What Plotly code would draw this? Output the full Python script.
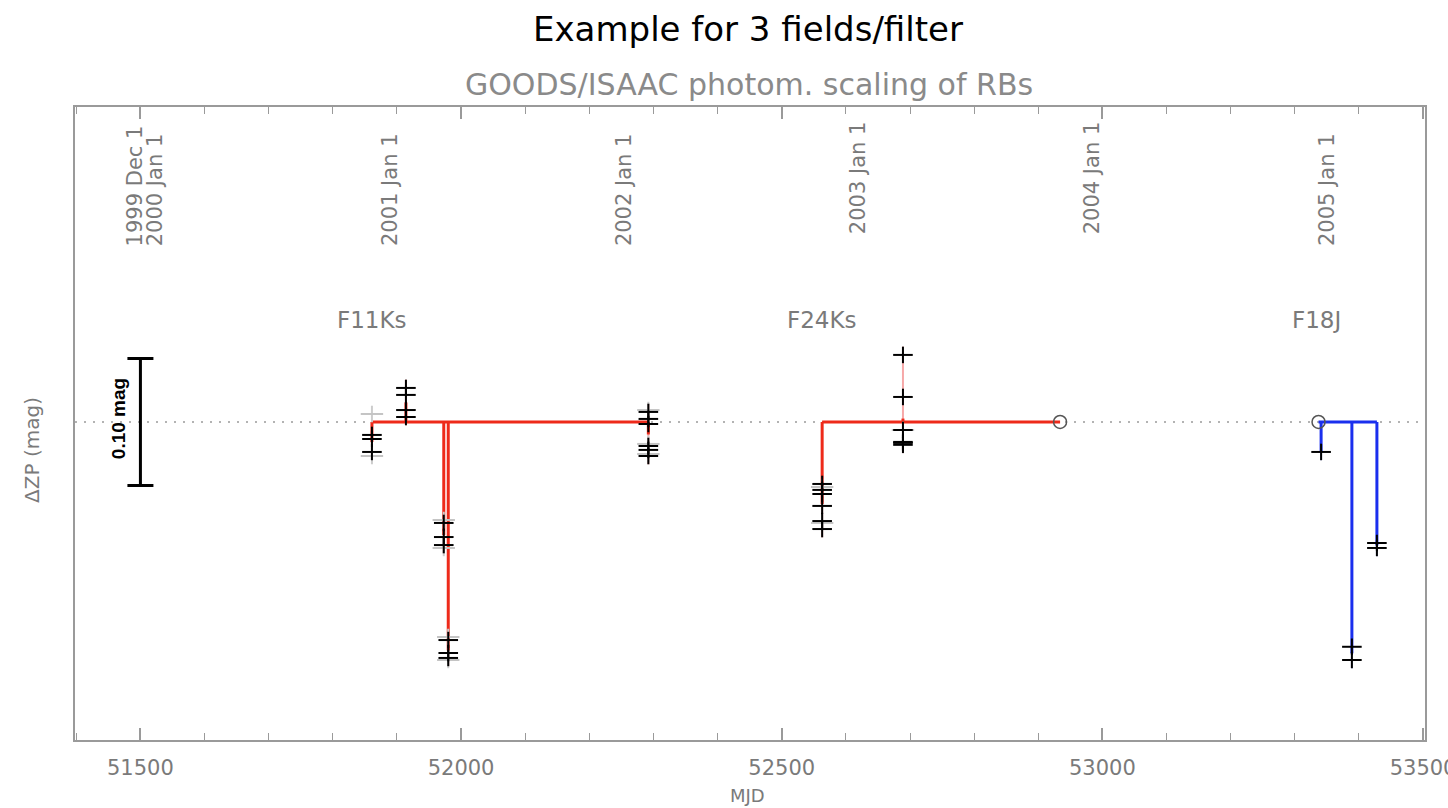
import plotly.graph_objects as go

# ---------------- data ----------------
fields = ["F11Ks", "F24Ks", "F18J"]
field_colors = ["#ee2a1a", "#ee2a1a", "#1a2fee"]
field_range_colors = ["#f6a8a8", "#f6a8a8", "#a8b4f6"]

# epochs (MJD) for each field and the ΔZP values measured at each epoch
f11_mjd = [51861, 51914, 51973, 51980, 52292]
f11_dzp = [
    [-0.0102, -0.0134, -0.0236],
    [0.0268, 0.0213, 0.0094, 0.0039],
    [-0.0795, -0.0906, -0.0969],
    [-0.1717, -0.1819, -0.1858],
    [0.0079, 0.0024, -0.0016, -0.0189, -0.0220, -0.0268],
]
f24_mjd = [52563, 52689]
f24_dzp = [
    [-0.0488, -0.0535, -0.0567, -0.0661, -0.0780, -0.0843],
    [0.0528, 0.0197, -0.0063, -0.0157, -0.0165, -0.0180],
]
f18_mjd = [53341, 53389, 53428]
f18_dzp = [
    [-0.0236],
    [-0.1770, -0.1874],
    [-0.0953, -0.0992],
]
# reference epochs (open circles, ΔZP = 0)
ref_mjd = [None, 52934, 53337]
label_mjd = [51861, 52562, 53334]
label_dzp = [0.080, 0.080, 0.080]

# faint grey duplicates of measurements
grey_mjd = [51861, 51861, 51973, 51973, 51980, 51980, 52292, 52292, 52292, 52563, 52563, 52689]
grey_dzp = [0.0063, -0.0268, -0.0772, -0.0992, -0.1693, -0.1874, 0.0094, -0.0173, -0.0252, -0.0512, -0.0795, -0.0063]

err = 0.0065  # half length of vertical cross arms

# scale bar
bar_mjd = 51500
bar_half = 0.05

# calendar labels on top
date_labels = ["1999 Dec 1", "2000 Jan 1", "2001 Jan 1", "2002 Jan 1", "2003 Jan 1", "2004 Jan 1", "2005 Jan 1"]
date_mjd = [51513, 51544, 51910, 52275, 52640, 53005, 53371]
date_ypos = [0.777, 0.777, 0.777, 0.777, 0.796, 0.796, 0.777]

xticks = [51500, 52000, 52500, 53000, 53500]

field_mjd = [f11_mjd, f24_mjd, f18_mjd]
field_dzp = [f11_dzp, f24_dzp, f18_dzp]

GREY = "#7a7a7a"
AX = "#9a9a9a"
FONT = "DejaVu Sans"

fig = go.Figure()

# zero line (dotted)
fig.add_shape(type="line", xref="paper", x0=0, x1=1, yref="y", y0=0, y1=0,
              line=dict(color="#9a9a9a", width=1.5, dash="2px,7px"), layer="below")

for i, name in enumerate(fields):
    mj = field_mjd[i]
    vals = field_dzp[i]
    means = [sum(v) / len(v) for v in vals]
    allx = list(mj) + ([ref_mjd[i]] if ref_mjd[i] is not None else [])
    xs, ys = [min(allx), max(allx), None], [0, 0, None]
    for m, mv in zip(mj, means):
        xs += [m, m, None]
        ys += [0, mv, None]
    rx, ry = [], []
    for m, v in zip(mj, vals):
        rx += [m, m, None]
        ry += [max(v) + err, min(v) - err, None]
    fig.add_trace(go.Scatter(x=rx, y=ry, mode="lines",
                             line=dict(color=field_range_colors[i], width=2),
                             hoverinfo="skip", showlegend=False))
    fig.add_trace(go.Scatter(x=xs, y=ys, mode="lines",
                             line=dict(color=field_colors[i], width=3),
                             hoverinfo="skip", showlegend=False))

# grey duplicate crosses
fig.add_trace(go.Scatter(x=grey_mjd, y=grey_dzp, mode="markers",
                         marker=dict(symbol="line-ew", size=16, line=dict(color="#c4c4c4", width=2)),
                         error_y=dict(type="constant", value=err, width=0, thickness=2, color="#cccccc"),
                         showlegend=False))

# black crosses
bx, by = [], []
for mj, vals in zip(field_mjd, field_dzp):
    for m, v in zip(mj, vals):
        for y in v:
            bx.append(m)
            by.append(y)
fig.add_trace(go.Scatter(x=bx, y=by, mode="markers",
                         marker=dict(symbol="line-ew", size=14, line=dict(color="black", width=2)),
                         error_y=dict(type="constant", value=err, width=0, thickness=2, color="black"),
                         showlegend=False))

# reference circles
fig.add_trace(go.Scatter(x=[m for m in ref_mjd if m is not None], y=[0, 0], mode="markers",
                         marker=dict(symbol="circle-open", size=13, color="#555555", line=dict(width=1.5)),
                         showlegend=False))

# scale bar
fig.add_trace(go.Scatter(x=[bar_mjd], y=[0], mode="markers", marker=dict(size=1, color="rgba(0,0,0,0)"),
                         error_y=dict(type="constant", value=bar_half, width=13, thickness=3, color="black"),
                         showlegend=False))

annotations = []
annotations.append(dict(x=bar_mjd - 35, y=0.003, xref="x", yref="y", text="<b>0.10 mag</b>",
                        textangle=-90, showarrow=False, xanchor="center", yanchor="middle",
                        font=dict(family="Liberation Sans", size=19, color="black")))
for i, name in enumerate(fields):
    annotations.append(dict(x=label_mjd[i], y=label_dzp[i], xref="x", yref="y", text=name,
                            showarrow=False, xanchor="center", yanchor="middle",
                            font=dict(family=FONT, size=23, color=GREY)))
for t, m, yp in zip(date_labels, date_mjd, date_ypos):
    annotations.append(dict(x=m, y=yp, xref="x", yref="paper", text=t, textangle=-90,
                            showarrow=False, xanchor="right", yanchor="bottom",
                            font=dict(family=FONT, size=21, color=GREY)))
annotations.append(dict(x=-0.032, y=0.458, xref="paper", yref="paper", text="ΔZP (mag)",
                        textangle=-90, showarrow=False, xanchor="center", yanchor="middle",
                        font=dict(family=FONT, size=20, color=GREY)))
annotations.append(dict(x=0.4985, y=-0.088, xref="paper", yref="paper", text="MJD",
                        showarrow=False, xanchor="center", yanchor="middle",
                        font=dict(family=FONT, size=18, color=GREY)))
annotations.append(dict(x=0.4985, y=1.123, xref="paper", yref="paper", text="Example for 3 fields/filter",
                        showarrow=False, xanchor="center", yanchor="middle",
                        font=dict(family=FONT, size=34, color="black")))
annotations.append(dict(x=0.4995, y=1.036, xref="paper", yref="paper", text="GOODS/ISAAC photom. scaling of RBs",
                        showarrow=False, xanchor="center", yanchor="middle",
                        font=dict(family=FONT, size=30, color="#8a8a8a")))

fig.update_layout(
    width=1448, height=808,
    margin=dict(l=75, r=23, t=107, b=68, autoexpand=False),
    paper_bgcolor="white", plot_bgcolor="white",
    showlegend=False,
    annotations=annotations,
    xaxis=dict(range=[51398, 53503], tickvals=xticks, ticktext=[str(v) for v in xticks],
               ticks="inside", ticklen=12, tickwidth=1.5, tickcolor=AX,
               minor=dict(dtick=100, ticks="inside", ticklen=7, tickwidth=1.2, tickcolor=AX),
               showline=True, linecolor=AX, linewidth=2, mirror="ticks",
               showgrid=False, zeroline=False, ticklabeloverflow="allow",
               automargin=False, ticklabelstandoff=8,
               tickfont=dict(family=FONT, size=21, color=GREY)),
    yaxis=dict(range=[-0.2504, 0.248], showticklabels=False, ticks="",
               showline=True, linecolor=AX, linewidth=2, mirror=True,
               automargin=False, showgrid=False, zeroline=False),
)

fig.write_html("out.html")
